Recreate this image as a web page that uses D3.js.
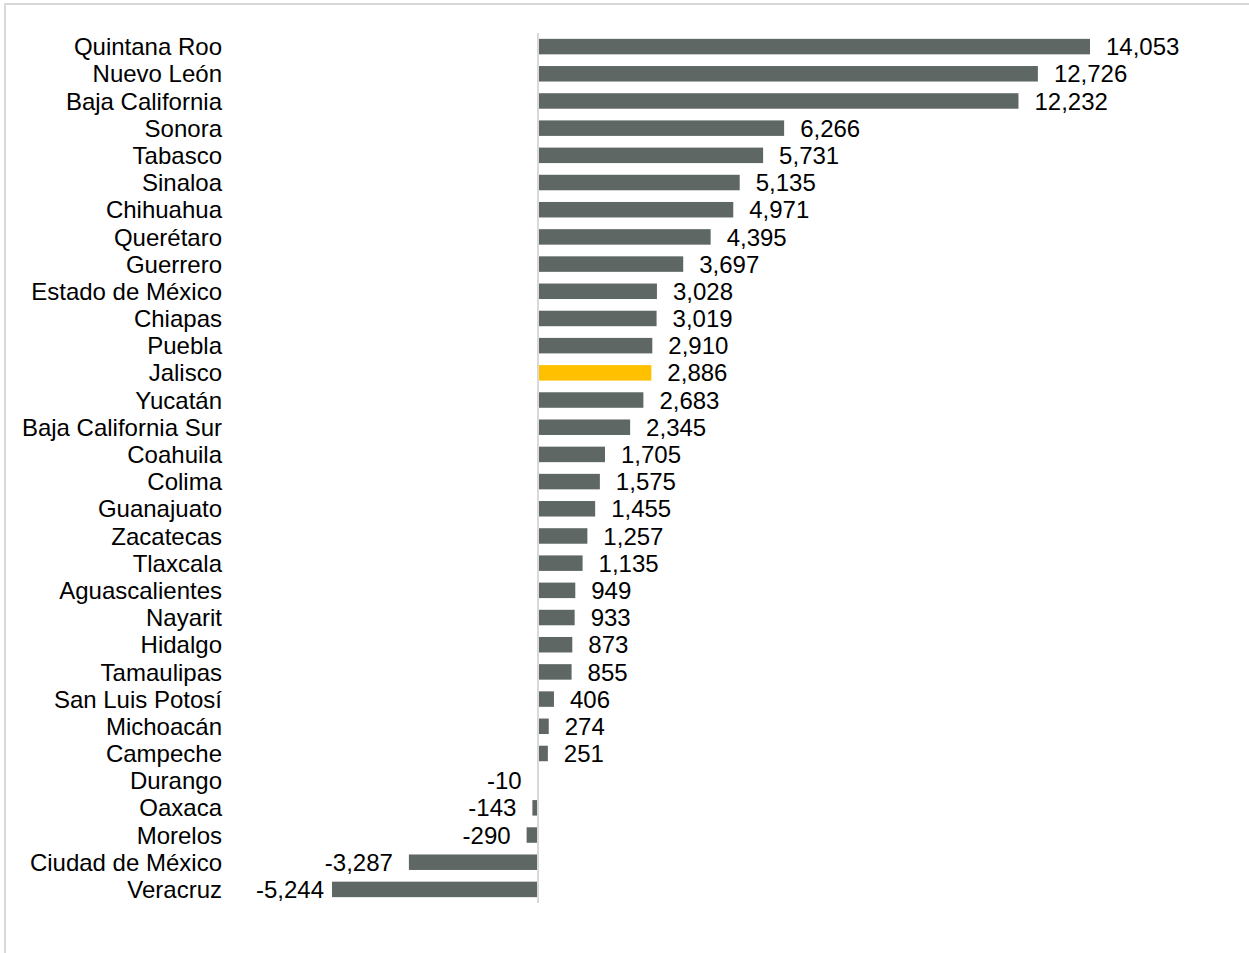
<!DOCTYPE html>
<html>
<head>
<meta charset="utf-8">
<script src="https://cdn.jsdelivr.net/npm/d3@7"></script>
<style>
  body { margin: 0; background: #fff; }
</style>
</head>
<body>
<div id="chart"></div>
<script>
var states = ["Quintana Roo", "Nuevo León", "Baja California", "Sonora", "Tabasco", "Sinaloa",
  "Chihuahua", "Querétaro", "Guerrero", "Estado de México", "Chiapas", "Puebla", "Jalisco",
  "Yucatán", "Baja California Sur", "Coahuila", "Colima", "Guanajuato", "Zacatecas", "Tlaxcala",
  "Aguascalientes", "Nayarit", "Hidalgo", "Tamaulipas", "San Luis Potosí", "Michoacán",
  "Campeche", "Durango", "Oaxaca", "Morelos", "Ciudad de México", "Veracruz"];
var values = [14053, 12726, 12232, 6266, 5731, 5135, 4971, 4395, 3697, 3028, 3019, 2910, 2886,
  2683, 2345, 1705, 1575, 1455, 1257, 1135, 949, 933, 873, 855, 406, 274, 251, -10, -143, -290,
  -3287, -5244];
var highlight = "Jalisco";

var width = 1249;
var height = 953;
var font = "Liberation Sans";
var plotLeft = 256;

var svg = d3.select("#chart")
  .append("svg")
  .attr("width", width)
  .attr("height", height);

// outer frame
svg.append("rect")
  .attr("x", 5)
  .attr("y", 4)
  .attr("width", width + 10)
  .attr("height", height + 10)
  .attr("fill", "none")
  .attr("stroke", "#d9d9d9")
  .attr("stroke-width", 2);

var x = d3.scaleLinear()
  .domain([0, 14053])
  .range([538, 1090]);

var y = d3.scaleBand()
  .domain(states)
  .range([33, 903])
  .paddingInner(0.43)
  .paddingOuter(0.215);

var data = states.map(function(s, i) { return {name: s, value: values[i]}; });

svg.selectAll("rect.bar")
  .data(data)
  .enter()
  .append("rect")
  .attr("class", "bar")
  .attr("x", function(d) { return x(Math.min(0, d.value)); })
  .attr("y", function(d) { return y(d.name); })
  .attr("width", function(d) { return Math.abs(x(d.value) - x(0)); })
  .attr("height", y.bandwidth())
  .attr("fill", function(d) { return d.name == highlight ? "#FFC000" : "#5F6764"; });

// zero line
svg.append("line")
  .attr("x1", x(0))
  .attr("x2", x(0))
  .attr("y1", 33)
  .attr("y2", 903)
  .style("stroke", "#d9d9d9")
  .style("stroke-width", 2);

var fmt = d3.formatLocale({decimal: ".", thousands: ",", grouping: [3], currency: ["$", ""], minus: "-"}).format(",");

svg.selectAll("text.value")
  .data(data)
  .enter()
  .append("text")
  .attr("class", "value")
  .attr("y", function(d) { return y(d.name) + y.bandwidth() / 2; })
  .attr("dy", "0.36em")
  .style("font-family", font)
  .style("font-size", "24px")
  .style("text-anchor", function(d) { return d.value >= 0 ? "start" : "end"; })
  .attr("fill", "#000")
  .text(function(d) { return fmt(d.value); })
  .attr("x", function(d) {
    if (d.value >= 0) return x(d.value) + 16;
    // keep negative labels inside the plot area
    var w = this.getComputedTextLength();
    return Math.max(x(d.value) - 16, plotLeft + w);
  });

svg.selectAll("text.cat")
  .data(data)
  .enter()
  .append("text")
  .attr("class", "cat")
  .attr("x", 222)
  .attr("y", function(d) { return y(d.name) + y.bandwidth() / 2; })
  .attr("dy", "0.36em")
  .style("font-family", font)
  .style("font-size", "24px")
  .style("text-anchor", "end")
  .attr("fill", "#000")
  .text(function(d) { return d.name; });
</script>
</body>
</html>
